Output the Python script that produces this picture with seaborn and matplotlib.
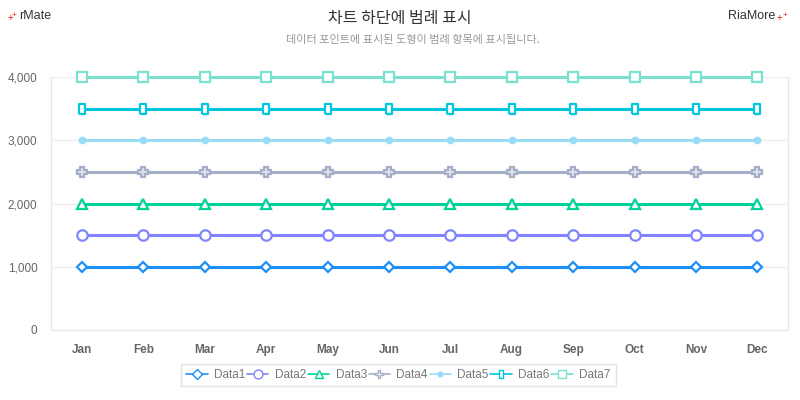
import pandas as pd
import numpy as np
import matplotlib
matplotlib.use('Agg')
import matplotlib.pyplot as plt
import seaborn as sns
from matplotlib.ticker import FuncFormatter

months = ['Jan', 'Feb', 'Mar', 'Apr', 'May', 'Jun', 'Jul', 'Aug', 'Sep', 'Oct', 'Nov', 'Dec']
data1 = [1000] * 12
data2 = [1500] * 12
data3 = [2000] * 12
data4 = [2500] * 12
data5 = [3000] * 12
data6 = [3500] * 12
data7 = [4000] * 12
series_names = ['Data1', 'Data2', 'Data3', 'Data4', 'Data5', 'Data6', 'Data7']
colors = ['#1e8ff8', '#8085ff', '#00d39a', '#a4aec6', '#9adcf8', '#00c6e0', '#7ae0d0']

# thin upright bar for Data6
bar = [(-0.28, -0.5), (0.28, -0.5), (0.28, 0.5), (-0.28, 0.5), (-0.28, -0.5)]
markers = ['D', 'o', '^', 'P', 'o', bar, 's']
msizes = [5.5, 7.5, 6.5, 7, 4, 7, 7.5]
filled = [False, False, False, False, True, False, False]

df = pd.DataFrame({'month': months, 'Data1': data1, 'Data2': data2, 'Data3': data3,
                   'Data4': data4, 'Data5': data5, 'Data6': data6, 'Data7': data7})
long = df.melt(id_vars='month', var_name='series', value_name='value')
long['x'] = long['month'].map({m: i for i, m in enumerate(months)})

sns.set_style('white')
plt.rcParams['font.family'] = ['Liberation Sans', 'Noto Sans CJK KR', 'DejaVu Sans']

fig = plt.figure(figsize=(8, 4), dpi=100)
ax = fig.add_axes([0.064, 0.175, 0.921, 0.6325])

sns.lineplot(data=long, x='x', y='value', hue='series',
             palette=dict(zip(series_names, colors)),
             linewidth=2.2, legend=False, ax=ax)

for line, c, ms, mk, f in zip(ax.lines, colors, msizes, markers, filled):
    line.set_marker(mk)
    line.set_markersize(ms)
    line.set_markeredgecolor(c)
    line.set_markeredgewidth(1.6)
    line.set_markerfacecolor(c if f else 'white')
    if mk == 'P':
        line.set_markerfacecolor('#e0e4ee')
    line.set_clip_on(False)
    line.set_zorder(5)

ax.set_xlim(-0.5, 11.5)
ax.set_ylim(0, 4000)
ax.set_xticks(range(12))
ax.set_xticklabels(months)
ax.set_yticks([0, 1000, 2000, 3000, 4000])
ax.yaxis.set_major_formatter(FuncFormatter(lambda v, p: f'{int(v):,}'))
ax.set_xlabel('')
ax.set_ylabel('')
ax.tick_params(axis='both', length=0, labelsize=8.5, colors='#666666')
ax.tick_params(axis='x', pad=10)
ax.tick_params(axis='y', pad=10)
for lab in ax.get_xticklabels():
    lab.set_fontweight('bold')
ax.grid(axis='y', color='#eeeeee', linewidth=1)
ax.set_axisbelow(True)
for s in ax.spines.values():
    s.set_color('#e8e8e8')
    s.set_linewidth(1)
    s.set_zorder(0.5)
ax.spines['top'].set_visible(False)

handles = []
for name, c, mk, ms, f in zip(series_names, colors, markers, msizes, filled):
    h, = ax.plot([], [], color=c, marker=mk, markersize=ms * 0.85,
                 markerfacecolor=c if f else 'white', markeredgecolor=c,
                 markeredgewidth=1.0, linewidth=1.2, label=name)
    handles.append(h)
leg = fig.legend(handles=handles, loc='center', bbox_to_anchor=(0.498, 0.0625), ncol=7,
                 frameon=True, fontsize=8.5, handlelength=1.8, handletextpad=0.55,
                 columnspacing=0.15, borderpad=0.45, fancybox=False)
leg.get_frame().set_edgecolor('#dddddd')
leg.get_frame().set_linewidth(1)
for t in leg.get_texts():
    t.set_color('#777777')

fig.text(0.5, 0.955, '차트 하단에 범례 표시', ha='center', va='center', fontsize=11.5, color='#333333',
         family=['Noto Sans CJK KR', 'DejaVu Sans'])
fig.text(0.516, 0.9, '데이터 포인트에 표시된 도형이 범례 항목에 표시됩니다.', ha='center', va='center',
         fontsize=8, color='#999999', family=['Noto Sans CJK KR', 'DejaVu Sans'])
fig.text(0.009, 0.955, '+', ha='left', va='center', fontsize=7, color='#e02020')
fig.text(0.015, 0.962, '+', ha='left', va='center', fontsize=6, color='#e02020')
fig.text(0.024, 0.96, 'rMate', ha='left', va='center', fontsize=9, color='#333333')
fig.text(0.969, 0.96, 'RiaMore', ha='right', va='center', fontsize=9, color='#333333')
fig.text(0.971, 0.955, '+', ha='left', va='center', fontsize=7, color='#e02020')
fig.text(0.978, 0.962, '+', ha='left', va='center', fontsize=6, color='#e02020')

fig.savefig('out.png', dpi=100, facecolor='white')
